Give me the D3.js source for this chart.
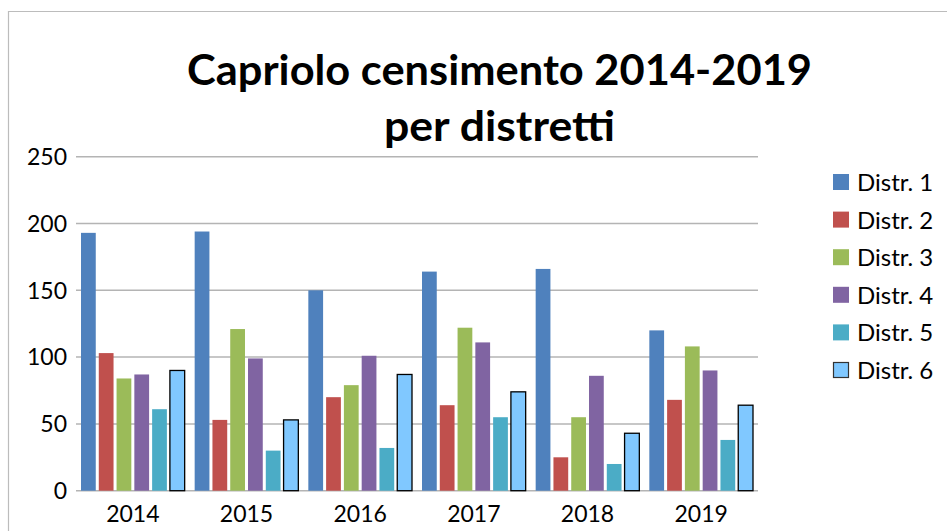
<!DOCTYPE html>
<html><head><meta charset="utf-8">
<script src="https://cdn.jsdelivr.net/npm/d3@7"></script>
<style>body{margin:0;background:#fff}svg{display:block}</style>
</head><body>
<script>
const years = ["2014","2015","2016","2017","2018","2019"];
const seriesNames = ["Distr. 1","Distr. 2","Distr. 3","Distr. 4","Distr. 5","Distr. 6"];
const distr1 = [193,194,150,164,166,120];
const distr2 = [103,53,70,64,25,68];
const distr3 = [84,121,79,122,55,108];
const distr4 = [87,99,101,111,86,90];
const distr5 = [61,30,32,55,20,38];
const distr6 = [90,53,87,74,43,64];
const yTicks = [0,50,100,150,200,250];
const titleLines = ["Capriolo censimento 2014-2019","per distretti"];

const seriesValues = [distr1,distr2,distr3,distr4,distr5,distr6];
const colors = ["#4F81BD","#C0504D","#9BBB59","#8064A2","#4BACC6","#80C8FF"];

const W=947,H=531;
const svg=d3.select("body").append("svg").attr("width",W).attr("height",H);
const font="Lato, 'Open Sans', sans-serif";

// outer border
svg.append("path").attr("d","M8.5,531 V11.5 H947").attr("fill","none").attr("stroke","#bcbcbc").attr("stroke-width",1.2);

const pLeft=76,pRight=758,pTop=156.7,pBottom=490.7;
const x0=d3.scaleBand().domain(years).range([pLeft,pRight]).padding(0);
const x1=d3.scaleBand().domain(d3.range(6)).range([5,x0.bandwidth()-5]).paddingInner(0.17).paddingOuter(0);
const y=d3.scaleLinear().domain([0,250]).range([pBottom,pTop]);

// gridlines
svg.append("g").selectAll("line").data(yTicks).join("line")
  .attr("x1",pLeft).attr("x2",pRight)
  .attr("y1",d=>y(d)).attr("y2",d=>y(d))
  .attr("stroke","#b4b4b4").attr("stroke-width",1.5);

// y labels
svg.append("g").selectAll("text").data(yTicks).join("text")
  .attr("x",67).attr("y",d=>y(d)).attr("dy","0.36em")
  .attr("text-anchor","end").attr("font-family",font).attr("font-size",23)
  .attr("fill","#000").text(d=>d);

// bars
const g=svg.append("g");
years.forEach((yr,i)=>{
  seriesValues.forEach((vals,s)=>{
    const r=g.append("rect")
      .attr("x",x0(yr)+x1(s)).attr("width",x1.bandwidth())
      .attr("y",y(vals[i])).attr("height",y(0)-y(vals[i]))
      .attr("fill",colors[s]);
    if(s===5) r.attr("stroke","#000").attr("stroke-width",1.3);
  });
});

// x labels
svg.append("g").selectAll("text").data(years).join("text")
  .attr("x",d=>x0(d)+x0.bandwidth()/2).attr("y",522)
  .attr("text-anchor","middle").attr("font-family",font).attr("font-size",23)
  .attr("fill","#000").text(d=>d);

// title
const titleY=[85,141], titleW=[625,231];
titleLines.forEach((t,i)=>{
  svg.append("text").attr("x",499.5).attr("y",titleY[i]).attr("text-anchor","middle")
   .attr("font-family",font).attr("font-weight","bold").attr("font-size",42)
   .attr("textLength",titleW[i]).attr("lengthAdjust","spacingAndGlyphs")
   .text(t);
});

// legend
const leg=svg.append("g");
seriesNames.forEach((n,i)=>{
  const yy=174+i*37.6;
  const r=leg.append("rect").attr("x",833).attr("y",yy).attr("width",16).attr("height",16).attr("fill",colors[i]);
  if(i===5) r.attr("stroke","#333").attr("stroke-width",1.2).attr("x",833.5).attr("y",yy+0.5).attr("width",15).attr("height",15);
  leg.append("text").attr("x",857).attr("y",yy+17).attr("font-family",font).attr("font-size",24)
    .attr("fill","#000").text(n);
});
</script>
</body></html>
